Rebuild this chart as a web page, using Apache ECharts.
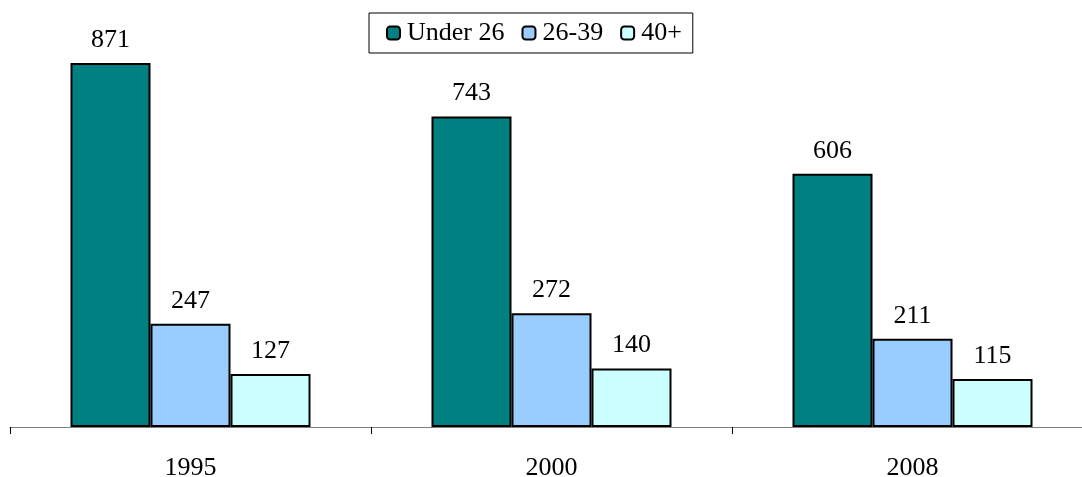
<!DOCTYPE html>
<html>
<head>
<meta charset="utf-8">
<script src="https://cdn.jsdelivr.net/npm/echarts@6/dist/echarts.min.js"></script>
<style>
  html, body { margin: 0; padding: 0; background: #fff; }
  #chart { width: 1082px; height: 477px; }
</style>
</head>
<body>
<div id="chart"></div>
<script>
const years = ['1995', '2000', '2008'];
const under26 = [871, 743, 606];
const age26to39 = [247, 272, 211];
const age40plus = [127, 140, 115];

const serif = '"Liberation Serif", "Times New Roman", serif';
const colors = ['#008080', '#99ccff', '#ccffff'];

const chart = echarts.init(document.getElementById('chart'));

function barSeries(name, data, color) {
    return {
        name: name,
        type: 'bar',
        data: data,
        barWidth: 80,
        barGap: '0%',
        itemStyle: { color: color, borderColor: '#000', borderWidth: 2 },
        label: {
            show: true,
            position: 'top',
            distance: 10,
            fontFamily: serif,
            fontSize: 26,
            color: '#000'
        }
    };
}

chart.setOption({
    animation: false,
    // plot area runs a bit past the right edge, like the original
    grid: { left: 10, width: 1083, top: 9, height: 418, outerBoundsMode: 'none', containLabel: false },
    legend: {
        top: 13,
        left: 369,
        itemWidth: 13,
        itemHeight: 13,
        itemGap: 17,
        padding: [7, 11, 7, 17],
        backgroundColor: '#fff',
        borderColor: '#000',
        borderWidth: 1,
        textStyle: { fontFamily: serif, fontSize: 26, color: '#000', padding: [0, 0, 0, 2] }
    },
    xAxis: {
        type: 'category',
        data: years,
        axisLine: { show: true, lineStyle: { color: '#808080', width: 1 } },
        axisTick: { show: true, length: 7, lineStyle: { color: '#000' } },
        axisLabel: { fontFamily: serif, fontSize: 26, color: '#000', margin: 28 }
    },
    yAxis: {
        type: 'value',
        min: 0,
        max: 1000,
        show: false,
        splitLine: { show: false }
    },
    series: [
        barSeries('Under 26', under26, colors[0]),
        barSeries('26-39', age26to39, colors[1]),
        barSeries('40+', age40plus, colors[2])
    ]
});
</script>
</body>
</html>
